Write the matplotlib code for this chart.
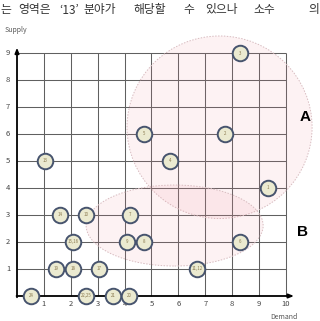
import matplotlib
matplotlib.use("Agg")
import matplotlib.pyplot as plt
from matplotlib.patches import Ellipse

plt.rcParams['font.family'] = ['Noto Sans CJK KR', 'DejaVu Sans']

# bubbles: demand (x), supply (y), label
demand = [0.52, 1.45, 2.07, 3.06, 2.58, 3.57, 4.16,
          1.6, 2.56, 2.1, 4.2, 4.1, 4.72,
          1.04, 4.71, 5.69, 7.73, 8.29, 9.32, 8.29, 6.68]
supply = [0, 1, 1, 1, 0, 0, 0,
          3, 3, 2, 3, 2, 2,
          5, 6, 5, 6, 9, 4, 2, 1]
labels = ["24", "19", "18", "17", "22,25", "21", "20",
          "14", "10", "15,16", "7", "9", "8",
          "13", "5", "4", "2", "3", "1", "6", "11,12"]

# grouping regions: centre, width, height
regions = ["A", "B"]
region_centre = [(7.53, 6.25), (5.86, 2.61)]
region_size = [(6.88, 6.76), (6.58, 3.0)]
region_label_pos = [(10.7, 6.63), (10.63, 2.37)]

x_ticks = list(range(1, 11))
y_ticks = list(range(1, 10))

header_words = ["는", "영역은", "‘13’", "분야가", "해당할", "수", "있으나", "소수", "의"]
header_x = [0, 18, 59, 83, 133, 183, 205, 253, 308]

fig = plt.figure(figsize=(3.2, 3.21), dpi=100)
ax = fig.add_axes([0, 0, 1, 1])
ax.set_xlim(-0.632, 11.264)
ax.set_ylim(-0.926, 10.963)
ax.axis("off")

# grid
ax.vlines(x_ticks, 0, 9, color="#606060", lw=0.75, zorder=1)
ax.hlines(y_ticks, 0, 10, color="#606060", lw=0.75, zorder=1)

# axes with arrows
ax.annotate("", xy=(10.4, 0), xytext=(-0.12, 0),
            arrowprops=dict(arrowstyle="-|>,head_length=0.3,head_width=0.12", color="black", lw=1.3), zorder=4)
ax.annotate("", xy=(0, 9.3), xytext=(0, -0.15),
            arrowprops=dict(arrowstyle="-|>,head_length=0.3,head_width=0.12", color="black", lw=1.3), zorder=4)

for t in x_ticks:
    ax.text(t, -0.3, str(t), ha="center", va="center", fontsize=5.5, color="#444444")
for t in y_ticks:
    ax.text(-0.25, t, str(t), ha="right", va="center", fontsize=5.5, color="#444444")

ax.text(-0.45, 9.85, "Supply", ha="left", va="center", fontsize=5, color="#555555")
ax.text(9.4, -0.78, "Demand", ha="left", va="center", fontsize=5, color="#555555")

# regions
for name, c, (w, h), pos in zip(regions, region_centre, region_size, region_label_pos):
    ax.add_patch(Ellipse(c, w, h, facecolor=(0.93, 0.55, 0.6, 0.11),
                         edgecolor="#d8bcc0", lw=0.7, linestyle=(0, (1.5, 1.5)), zorder=2))
    ax.text(pos[0], pos[1], name, ha="center", va="center", fontsize=11,
            fontweight="bold", family="Liberation Sans", color="black")

# bubbles
ax.scatter(demand, supply, s=125, facecolor="#ebead0", edgecolor="#47546e",
           linewidths=1.4, zorder=5)
for x, y, lab in zip(demand, supply, labels):
    ax.text(x, y, lab, ha="center", va="center", fontsize=3.2, color="#8a7a50", zorder=6)

# header text from the page
for word, px in zip(header_words, header_x):
    fig.text(px / 320, 1 - 10 / 321, word, ha="left", va="center",
             fontsize=8.5, color="#333333")

fig.savefig("out.png", dpi=100)
